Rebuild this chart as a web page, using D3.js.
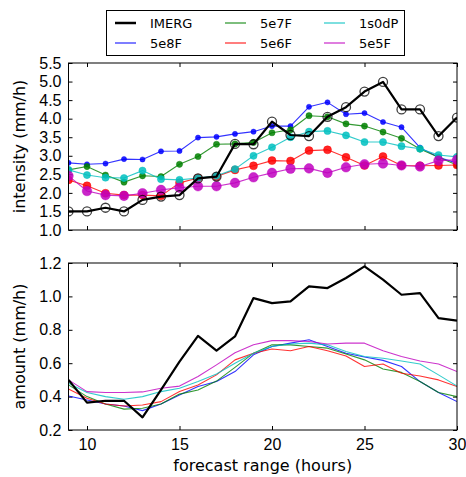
<!DOCTYPE html>
<html><head><meta charset="utf-8">
<script src="https://cdn.jsdelivr.net/npm/d3@7"></script>
<style>body{margin:0;background:#fff}svg{display:block;font-family:"DejaVu Sans",sans-serif}</style>
</head><body><div id="c"></div>
<script>
const hours = d3.range(9, 31);
const seriesNames = ["IMERG","5e8F","5e7F","5e6F","1s0dP","5e5F"];
const colors = {"IMERG":"#000000","5e8F":"#0000ff","5e7F":"#008000","5e6F":"#ff0000","1s0dP":"#00bfbf","5e5F":"#bf00bf"};
const markerR = {"IMERG":4.5,"5e8F":2.6,"5e7F":3.1,"5e6F":4,"1s0dP":3.6,"5e5F":4.8};
// intensity (mm/h)
const intIMERG = [1.5,1.5,1.6,1.5,1.81,1.9,1.94,2.39,2.44,3.32,3.31,3.92,3.56,3.53,4.05,4.31,4.73,4.99,4.25,4.25,3.53,4.03];
const int5e8F  = [2.81,2.77,2.79,2.91,2.9,3.12,3.13,3.49,3.51,3.59,3.65,3.8,3.8,4.32,4.44,4.12,4.15,3.91,3.77,3.22,2.96,2.8];
const int5e7F  = [2.62,2.71,2.48,2.29,2.46,2.44,2.77,2.98,3.31,3.32,3.36,3.62,3.7,4.08,4.05,3.86,3.8,3.64,3.47,3.18,2.96,2.75];
const int5e6F  = [2.35,2.19,1.99,1.94,1.94,1.92,2.27,2.4,2.44,2.62,2.73,2.87,2.86,3.14,3.16,2.96,2.74,2.98,2.74,2.73,2.74,2.75];
const int1s0dP = [2.62,2.48,2.41,2.4,2.6,2.37,2.35,2.4,2.46,2.64,3.0,3.23,3.5,3.65,3.67,3.55,3.37,3.37,3.26,3.19,3.02,2.97];
const int5e5F  = [2.46,2.05,1.94,1.92,1.99,2.08,2.14,2.18,2.18,2.27,2.42,2.54,2.65,2.66,2.54,2.69,2.77,2.79,2.74,2.71,2.87,2.89];
// amount (mm/h)
const amtIMERG = [0.5,0.364,0.375,0.375,0.276,0.44,0.61,0.763,0.675,0.76,0.99,0.96,0.97,1.06,1.05,1.11,1.18,1.1,1.01,1.02,0.87,0.855];
const amt5e8F  = [0.404,0.38,0.356,0.344,0.316,0.356,0.41,0.46,0.49,0.55,0.65,0.7,0.72,0.74,0.7,0.66,0.637,0.617,0.58,0.49,0.425,0.37];
const amt5e7F  = [0.47,0.4,0.356,0.325,0.33,0.356,0.415,0.44,0.493,0.575,0.66,0.71,0.71,0.7,0.69,0.655,0.62,0.565,0.545,0.49,0.425,0.4];
const amt5e6F  = [0.445,0.39,0.356,0.344,0.35,0.37,0.43,0.47,0.53,0.62,0.66,0.685,0.675,0.7,0.675,0.643,0.58,0.595,0.54,0.523,0.5,0.46];
const amt1s0dP = [0.48,0.425,0.4,0.384,0.4,0.43,0.45,0.49,0.535,0.6,0.66,0.7,0.715,0.72,0.71,0.67,0.64,0.63,0.613,0.595,0.53,0.463];
const amt5e5F  = [0.5,0.43,0.425,0.425,0.428,0.45,0.463,0.52,0.59,0.663,0.71,0.735,0.735,0.73,0.715,0.72,0.72,0.675,0.64,0.613,0.595,0.55];
const xTicks = [10,15,20,25,30];
const yTicksTop = [1.0,1.5,2.0,2.5,3.0,3.5,4.0,4.5,5.0,5.5];
const yTicksBot = [0.2,0.4,0.6,0.8,1.0,1.2];

const intensity = {"IMERG":intIMERG,"5e8F":int5e8F,"5e7F":int5e7F,"5e6F":int5e6F,"1s0dP":int1s0dP,"5e5F":int5e5F};
const amount = {"IMERG":amtIMERG,"5e8F":amt5e8F,"5e7F":amt5e7F,"5e6F":amt5e6F,"1s0dP":amt1s0dP,"5e5F":amt5e5F};

const W = 466, H = 477;
const svg = d3.select("#c").append("svg").attr("width", W).attr("height", H);
const L = 68.5, R = 457;
const x = d3.scaleLinear().domain([9,30]).range([L,R]);
const drawOrder = ["5e8F","5e7F","5e6F","1s0dP","5e5F","IMERG"];

function panel(top, bottom, domain, yticks, data, markers, label, showX, id) {
  const y = d3.scaleLinear().domain(domain).range([bottom, top]);
  const g = svg.append("g");
  const fmt = d3.format(".1f");
  const tl = 4;
  svg.append("clipPath").attr("id", id).append("rect")
    .attr("x", L).attr("y", top).attr("width", R - L).attr("height", bottom - top);
  g.append("g").attr("transform",`translate(0,${bottom})`)
    .call(d3.axisBottom(x).tickValues(xTicks).tickSizeInner(-tl).tickSizeOuter(0).tickFormat(showX ? d3.format("d") : ""))
    .call(a => { a.select(".domain").remove(); a.selectAll("text").attr("dy","0.3em").attr("y",15).style("font-size","16px").style("fill","#000"); });
  g.append("g").attr("transform",`translate(0,${top})`)
    .call(d3.axisTop(x).tickValues(xTicks).tickSizeInner(-tl).tickSizeOuter(0).tickFormat(""))
    .call(a => a.select(".domain").remove());
  g.append("g").attr("transform",`translate(${L},0)`)
    .call(d3.axisLeft(y).tickValues(yticks).tickSizeInner(-tl).tickSizeOuter(0).tickFormat(fmt))
    .call(a => { a.select(".domain").remove(); a.selectAll("text").attr("x",-7).style("font-size","16px").style("fill","#000"); });
  g.append("g").attr("transform",`translate(${R},0)`)
    .call(d3.axisRight(y).tickValues(yticks).tickSizeInner(-tl).tickSizeOuter(0).tickFormat(""))
    .call(a => a.select(".domain").remove());
  const plot = g.append("g").attr("clip-path", `url(#${id})`);
  const line = d3.line().x((d,i)=>x(hours[i])).y(d=>y(d));
  drawOrder.forEach(name => {
    const vals = data[name];
    const isObs = name === "IMERG";
    plot.append("path").attr("d", line(vals)).attr("fill","none")
      .attr("stroke", colors[name]).attr("stroke-width", isObs ? 2.2 : 1.1)
      .attr("stroke-opacity", isObs ? 1 : 0.8).attr("stroke-linejoin","round");
    if (markers) {
      plot.append("g").selectAll("circle").data(vals).join("circle")
        .attr("cx",(d,i)=>x(hours[i])).attr("cy",d=>y(d)).attr("r",markerR[name])
        .attr("fill", isObs ? "none" : colors[name]).attr("fill-opacity", isObs ? 0 : 0.85)
        .attr("stroke", isObs ? "#000" : colors[name]).attr("stroke-width", isObs ? 1.3 : 0.5)
        .attr("stroke-opacity", isObs ? 0.75 : 0.85);
    }
  });
  g.append("rect").attr("x",L).attr("y",top).attr("width",R-L).attr("height",bottom-top)
    .attr("fill","none").attr("stroke","#000").attr("stroke-width",1);
  g.append("text").attr("transform",`translate(25,${(top+bottom)/2}) rotate(-90)`)
    .attr("text-anchor","middle").style("font-size","16px").text(label);
}

panel(63, 230, [1,5.5], yTicksTop, intensity, true, "intensity (mm/h)", false, "clipTop");
panel(263, 430, [0.2,1.2], yTicksBot, amount, false, "amount (mm/h)", true, "clipBot");

svg.append("text").attr("x",(L+R)/2).attr("y",471).attr("text-anchor","middle").style("font-size","16px").text("forecast range (hours)");

// legend
const lg = svg.append("g");
lg.append("rect").attr("x",106.5).attr("y",10.5).attr("width",298).attr("height",45).attr("fill","#fff").attr("stroke","#000").attr("stroke-width",1);
const legendOrder = ["IMERG","5e8F","5e7F","5e6F","1s0dP","5e5F"];
const colX = [115, 225, 324], rowY = [23, 43];
legendOrder.forEach((name, i) => {
  const cx = colX[Math.floor(i/2)], cy = rowY[i%2];
  lg.append("line").attr("x1",cx).attr("x2",cx+21).attr("y1",cy).attr("y2",cy)
    .attr("stroke",colors[name]).attr("stroke-width", name==="IMERG" ? 2.5 : 1.2).attr("stroke-opacity", name==="IMERG"?1:0.85);
  lg.append("text").attr("x",cx+35).attr("y",cy).attr("dy","0.35em").style("font-size","13px").text(name);
});
</script></body></html>
